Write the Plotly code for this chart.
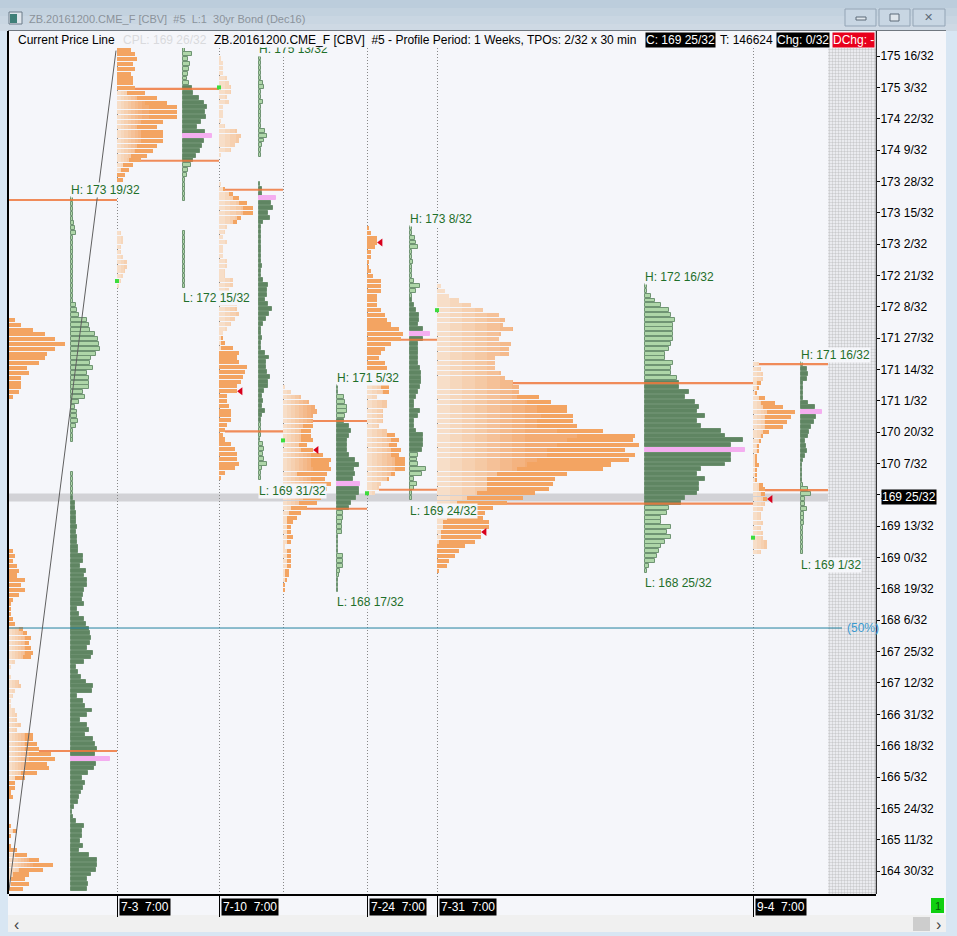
import plotly.graph_objects as go

# one list per weekly profile, rows run from the top price down in 2/32 steps
# tpo = letters per row, old = how many of them are from earlier sessions, vol = volume per row (same x scale)
wk1_tpo = [0] * 25 + [3, 6, 12, 18, 23, 28, 23, 19, 18, 15, 9, 10, 6, 6, 6, 5, 2] + [0] * 31 + [
    2, 3, 2, 4, 5, 4, 8, 6, 8, 5, 2, 1, 1, 1, 2, 3, 7, 9, 11, 10, 11, 12, 11, 3, 1, 0, 1, 5, 6, 3, 2, 1, 1, 3, 4, 4, 6, 4,
    12, 12, 14, 15, 21, 23, 19, 20, 14, 8, 3, 3, 1, 2, 0, 0, 0, 0, 0, 1, 4, 1, 0, 1, 4, 9, 15, 22, 17, 10, 8, 10, 7]
wk1_old = [0] * 73 + [0] * 16 + [5, 7, 8, 8, 8, 8, 7, 3, 1, 0, 1, 5, 6, 3, 2, 1, 1, 3, 4, 4, 6, 4,
    8, 8, 8, 8, 10, 10, 8, 8, 6, 3, 0, 0, 0, 0, 0, 0, 0, 0, 0, 0, 2, 0, 0, 0, 0, 3, 10, 12, 5, 2, 1, 1, 0]
wk1_vol = [1.2] * 5 + [1.6, 2.2, 2.7] + [1.2] * 14 + [2.7, 3.2, 4.2, 8.2, 9.2, 9.7, 12.2, 13.7, 14.2, 14.7, 12.7, 10.2, 9.7,
    11.2, 8.2, 9.2, 9.2, 9.2, 6.2, 7.2, 4.2, 2.2, 3.2, 3.2, 3.7, 2.7, 1.2, 1.2, 1.2] + [0] * 6 + [1.2] * 3 + [
    1.2, 1.2, 1.2, 2.2, 2.2, 2.7, 2.7, 2.7, 3.2, 2.7, 3.2, 3.2, 3.7, 3.7, 6.2, 6.2, 4.7, 7.7, 6.7, 8.2, 8.2, 6.7, 6.2, 5.7,
    6.7, 3.2, 4.2, 6.7, 7.7, 9.2, 9.7, 10.2, 9.7, 8.2, 11.2, 10.2, 6.7, 2.7, 3.7, 5.2, 7.7, 11.2, 10.7, 3.2, 6.2, 7.2, 10.7,
    8.2, 4.7, 8.2, 9.2, 7.2, 11.2, 12.2, 13.2, 12.2, 19.8, 12.7, 11.7, 8.7, 5.7, 7.2, 6.2, 5.2, 4.2, 3.7, 1.7, 0.7, 1.2, 2.7,
    6.7, 5.7, 5.7, 4.7, 6.2, 4.2, 9.2, 13.2, 13.2, 12.7, 10.2, 8.2, 8.7, 8.2]

wk2_tpo = [7, 9, 10, 8, 9, 7, 8, 8, 9, 14, 20, 25, 30, 30, 30, 23, 20, 23, 23, 23, 20, 18, 15, 12, 8, 6, 4, 3] + [0] * 10 + [
    2, 3, 3, 2, 2, 3, 5, 5, 4, 3, 2, 1]
wk2_old = [0] * 9 + [5, 10, 14, 16, 16, 16, 12, 10, 12, 12, 12, 10, 9, 7, 6, 3, 2, 0, 0] + [0] * 10 + [
    2, 3, 3, 2, 2, 3, 5, 5, 4, 3, 2, 1]
wk2_vol = [1, 4.5, 2.5, 3.5, 3, 2.5, 2, 3, 4.5, 5, 8, 10.5, 12, 11, 11.5, 9, 7, 11, 14.5, 10.5, 9.5, 8.5, 6.5, 5, 4, 2.5, 2, 1,
    1, 1, 1, 1] + [0] * 6 + [1] * 12

wk3_tpo = [1, 2, 2, 2, 4, 5, 6, 6, 4, 5, 2, 2, 2, 1, 3, 9, 11, 10, 8, 6, 1] + [0] * 5 + [
    1, 3, 7, 10, 14, 17, 17, 11, 9, 4, 3, 2, 4, 2, 2, 2, 4, 4, 3, 3, 7, 7, 5, 5, 5, 9, 9, 10, 8, 6, 4, 2, 2, 3, 7,
    10, 9, 10, 14, 13, 12, 11, 9, 9, 4, 4, 5, 6, 6, 6, 4, 3, 2, 3, 6, 8, 9, 9, 10, 8, 3, 1]
wk3_old = [1, 2, 2, 2, 4, 5, 6, 6, 4, 5, 2, 2, 2, 1, 3, 9, 11, 10, 8, 6, 1] + [0] * 5 + [
    1, 2, 5, 7, 10, 12, 12, 9, 7, 4, 3, 2, 4, 2, 2, 2, 4, 4, 3, 3, 7, 7, 5, 5, 5, 9, 9, 10, 8, 6, 4, 2, 1, 1, 1] + [0] * 27
wk3_vol = [1, 1, 1, 1, 1, 2, 2.5, 1, 1, 2, 1, 1, 1, 1, 1, 3, 4, 2.5, 1.5, 1, 1] + [0] * 5 + [
    0.8, 1.6, 1.6, 8.7, 6, 7, 4.5, 5.7, 2.2, 1.2, 1.2, 1.2, 1.2, 1.2, 1.2, 1.2, 1.2, 1.6, 1.2, 1.2, 2.2, 4.5, 4.2, 4.2, 3.2,
    4.5, 6.5, 5.2, 3.7, 2.2, 1.2, 1.2, 1.6, 1.2, 1.2, 3.2, 5.2, 3.7, 3.7, 4.2, 5.7, 4.7, 4.7, 2.7, 1.6, 2.2, 1.6, 3.2, 1.6,
    1.2, 1.2, 1.2, 1.2, 0.8, 2.2, 2.7, 2.2, 2.7, 4.2, 1.6, 1.2, 1.2]

wk4_tpo = [1, 4, 9, 13, 16, 17, 15, 15, 15, 14, 14, 15, 12, 15, 20, 24, 23, 24, 22, 21, 24, 22, 20, 19, 17, 12, 9, 7, 5, 4,
    4, 5, 4, 1, 4, 4, 4, 4, 3, 3, 2, 1, 1]
wk4_old = [1, 4, 9, 13, 16, 17, 15, 15, 10, 9, 9, 9, 8, 9, 14, 14, 14, 15, 7, 14, 14, 13, 13, 10, 8, 4, 3, 2, 2, 2,
    2, 2, 2, 1, 2, 2, 2, 2, 1, 1, 1, 0, 0]
wk4_vol = [0.8, 0.8, 3.8, 4.3, 5.3, 5.3, 4.3, 3.8, 6.3, 7.3, 6.3, 5, 5.3, 5.3, 6, 9.3, 11, 8.7, 9, 8.3, 11.7, 11, 11, 9.7, 7.3,
    6.3, 3.3, 3, 2.8, 2.8, 2.8, 0.8, 0.8, 0.8, 0.8, 3, 3, 3, 1.7, 1.3, 0.8, 0.8, 0.8]

wk5_tpo = [1, 2, 5, 5, 4, 2, 2, 1, 1, 2, 3, 7, 7, 7, 5, 5, 5, 7, 9, 10, 12, 16, 18, 17, 12, 9, 7, 6, 9, 10,
    10, 10, 10, 11, 11, 5, 10, 10, 8, 8, 8, 6, 10, 14, 16, 15, 17, 16, 19, 19, 19, 14, 11, 7, 6, 4]
wk5_old = [0] * 30 + [10, 10, 10, 7, 8, 5, 10, 10, 8, 8, 8, 6, 10, 10, 12, 11, 12, 12, 14, 14, 14, 12, 10, 7, 6, 4]
wk5_vol = [1, 1, 2.5, 3, 4, 1, 1, 1.5, 1, 1, 1, 2, 5, 3, 1, 1, 2, 3, 4.5, 4.5, 4, 6.5, 9.8, 6.2, 4, 4, 4, 4, 4, 5,
    5.5, 5.5, 5.5, 5, 4, 3, 2, 2, 5, 4, 2, 2, 3, 6.5, 6.5, 6.5, 6, 4, 3.5, 4, 8, 6, 2, 3.5, 2, 1, 1]

wk6_tpo = [2, 4, 6, 11, 17, 23, 31, 34, 33, 38, 32, 31, 37, 36, 36, 29, 29, 29, 32, 34, 38, 41, 41, 51, 57, 65, 65, 68, 68, 70,
    83, 99, 98, 101, 94, 99, 96, 87, 83, 65, 59, 58, 56, 49, 43, 35, 28, 24, 23, 26, 26, 22, 22, 19, 14, 11, 9, 6, 5, 1]
wk6_old = [2, 4, 6, 11, 17, 23, 31, 34, 33, 38, 32, 31, 37, 36, 36, 29, 29, 29, 32, 34, 38, 41, 41, 40, 45, 50, 50, 52, 50, 50,
    60, 70, 65, 60, 55, 55, 50, 45, 40, 30, 25, 25, 25, 20, 15, 10, 5, 0, 5, 3, 3, 2, 2, 1, 0, 0, 0, 0, 0, 0]
wk6_vol = [1, 1, 3, 5, 8, 12, 13, 15, 14, 14, 14, 14, 13, 12, 10, 10, 14, 13, 13, 16, 17, 17, 22, 20, 25, 27, 26, 30, 26, 28,
    38, 40, 49, 43, 50, 43, 43, 40, 28, 26, 30, 27, 27, 26, 20, 18, 12, 11, 8, 8, 13, 11, 13, 10, 8, 7, 6, 5, 2, 1]

wk7_tpo = [3, 4, 5, 5, 4, 3, 2, 6, 11, 15, 21, 19, 17, 15, 8, 5, 4, 3, 3, 2, 2, 3, 2, 2, 2, 5, 6, 6, 7, 6, 5, 4, 4, 5, 4, 5, 5, 7, 7, 4]
wk7_old = [3, 4, 5, 5, 2, 2, 1, 3, 4, 5, 7, 6, 6, 6, 5, 4, 3, 2, 2, 1, 1, 1, 1, 1, 1, 3, 3, 4, 5, 6, 5, 4, 4, 5, 4, 5, 5, 7, 7, 4]
wk7_vol = [1, 3, 3.5, 3, 1, 1, 1, 1, 3.5, 7, 10.5, 7.5, 6.5, 5, 4, 3.5, 2, 2.5, 3, 2, 1, 0.7, 0.7, 0.7, 0.7, 1, 3.5, 5, 2, 2, 3,
    1.5, 1.5, 1.5, 1, 1, 1, 1, 1, 1]

# per profile values, in the same order as the weeks above
top_price = [173.643, 175.584, 175.468, 171.206, 173.271, 172.519, 171.508]
session_bar = [0, 54, 105, 137, 179, 214, 372]
volume_bar = [30.75, 87, 124.85, 163.85, 200.65, 317.75, 395.85]
end_bar = 409.5
vah_price = [173.634, 175.074, 173.767, 170.770, 171.823, 171.262, 171.508]
val_price = [166.493, 174.143, 170.636, 169.633, 169.879, 169.699, 169.875]
poc_row = [116, 18, 29, 20, 22, 34, 10]
dark_rows = [(62, 143), (8, 23), (27, 75), (7, 25), (15, 46), (20, 45), (1, 24)]
fade_span = [12, 14, 22, 16, 20, 50, 15]
high_text = ["H: 173 19/32", None, "H: 175 13/32", "H: 171 5/32", "H: 173 8/32", "H: 172 16/32", "H: 171 16/32"]
low_text = [None, "L: 172 15/32", "L: 169 31/32", "L: 168 17/32", "L: 169 24/32", "L: 168 25/32", "L: 169 1/32"]
open_row = [None, 48, 6, 11, 55, 5, 36]
close_row = [None, None, 69, 13, 3, 51, 28]

tick_labels = ["175 16/32", "175 3/32", "174 22/32", "174 9/32", "173 28/32", "173 15/32", "173 2/32", "172 21/32",
               "172 8/32", "171 27/32", "171 14/32", "171 1/32", "170 20/32", "170 7/32", "169 26/32", "169 13/32",
               "169 0/32", "168 19/32", "168 6/32", "167 25/32", "167 12/32", "166 31/32", "166 18/32", "166 5/32",
               "165 24/32", "165 11/32", "164 30/32"]
date_labels = ["7-3  7:00", "7-10  7:00", "7-24  7:00", "7-31  7:00", "9-4  7:00"]
date_bars = [54, 105, 179, 214, 372]
current_price = 169.78
current_label = "169 25/32"
half_price = 168.087
trend_x = [0, 53.5]
trend_y = [164.69, 175.57]

ROW = 2 / 32
PANEL = "#f5f6fa"
PALE = (247, 222, 200)
MID = (243, 172, 116)
FRESH = "#f3a462"
FADE_STEPS = 8


def to_price(label):
    whole, frac = label.split(" ")
    num, den = frac.split("/")
    return int(whole) + int(num) / int(den)


def xp(px):
    return (px - 9) / 867


def yp(py):
    return (894 - py) / 846


def fade_color(i):
    t = i / (FADE_STEPS - 1)
    c = [round(a + (b - a) * t) for a, b in zip(PALE, MID)]
    return f"rgb({c[0]},{c[1]},{c[2]})"


def add_bars(fig, rows, widths, bases, color, **marker):
    keep = [i for i, w in enumerate(widths) if w > 0]
    fig.add_trace(go.Bar(
        y=[rows[i] for i in keep],
        x=[widths[i] for i in keep],
        base=[bases[i] for i in keep],
        width=ROW * 0.84,
        orientation="h",
        marker=dict(color=color, line=dict(width=0), **marker),
        hoverinfo="skip",
    ))


def add_tpo(fig, n, tpo, old):
    rows = [top_price[n] - ROW * i for i in range(len(tpo))]
    start = session_bar[n]
    span = fade_span[n] / FADE_STEPS
    for step in range(FADE_STEPS):
        lo = step * span
        hi = lo + span if step < FADE_STEPS - 1 else 1000
        widths = [max(0, min(o, hi) - lo) for o in old]
        add_bars(fig, rows, widths, [start + lo] * len(rows), fade_color(step))
    widths = [t - o for t, o in zip(tpo, old)]
    add_bars(fig, rows, widths, [start + o for o in old], FRESH)


def add_volume(fig, n, vol):
    rows = [top_price[n] - ROW * i for i in range(len(vol))]
    first, last = dark_rows[n]
    keep = [i for i, v in enumerate(vol) if v > 0]
    fills = []
    edges = []
    for i in keep:
        if i == poc_row[n]:
            fills.append("#f4aef0")
            edges.append("#f4aef0")
        elif first <= i <= last:
            fills.append("#5f8562")
            edges.append("#6b8f6e")
        else:
            fills.append("#aed6a8")
            edges.append("#6f9473")
    fig.add_trace(go.Bar(
        y=[rows[i] for i in keep],
        x=[vol[i] for i in keep],
        base=volume_bar[n],
        width=ROW * 0.82,
        orientation="h",
        marker=dict(color=fills, line=dict(color=edges, width=1)),
        hoverinfo="skip",
    ))


def tpo_end(n, tpo, price):
    i = round((top_price[n] - price) / ROW)
    i = max(0, min(i, len(tpo) - 1))
    return session_bar[n] + tpo[i]


tpos = [wk1_tpo, wk2_tpo, wk3_tpo, wk4_tpo, wk5_tpo, wk6_tpo, wk7_tpo]
olds = [wk1_old, wk2_old, wk3_old, wk4_old, wk5_old, wk6_old, wk7_old]
vols = [wk1_vol, wk2_vol, wk3_vol, wk4_vol, wk5_vol, wk6_vol, wk7_vol]

fig = go.Figure()

# hatched area right of the last bar
fig.add_trace(go.Bar(
    y=[170.122], x=[24], base=[end_bar], width=[10.964], orientation="h",
    marker=dict(color=PANEL, line=dict(width=0),
                pattern=dict(shape=".", fgcolor="#a0a0a0", bgcolor=PANEL, size=3, solidity=0.5)),
    hoverinfo="skip",
))

for n in range(7):
    add_tpo(fig, n, tpos[n], olds[n])
    add_volume(fig, n, vols[n])

# value area lines run from the end of the tpo bar to the next session
next_bar = session_bar[1:] + [end_bar]
for n in range(7):
    for price in (vah_price[n], val_price[n]):
        fig.add_trace(go.Scatter(
            x=[tpo_end(n, tpos[n], price), next_bar[n]], y=[price, price], mode="lines",
            line=dict(color="rgba(238,120,60,0.85)", width=2.2), hoverinfo="skip",
        ))

fig.add_trace(go.Scatter(x=[0, 416.5], y=[half_price, half_price], mode="lines",
                         line=dict(color="#23819f", width=1), hoverinfo="skip"))
fig.add_trace(go.Scatter(x=trend_x, y=trend_y, mode="lines",
                         line=dict(color="#606060", width=1), hoverinfo="skip"))

# session open / close marks
open_x, open_y, close_x, close_y = [], [], [], []
for n in range(7):
    if open_row[n] is not None:
        open_x.append(session_bar[n])
        open_y.append(top_price[n] - ROW * open_row[n])
    if close_row[n] is not None:
        close_x.append(session_bar[n] + tpos[n][close_row[n]] + 1.8)
        close_y.append(top_price[n] - ROW * close_row[n])
fig.add_trace(go.Scatter(x=open_x, y=open_y, mode="markers", hoverinfo="skip",
                         marker=dict(symbol="square", size=4, color="#3ddc3d")))
fig.add_trace(go.Scatter(x=close_x, y=close_y, mode="markers", hoverinfo="skip",
                         marker=dict(symbol="triangle-left", size=7, color="#d8001c")))

shapes = []


def rect(x0, y0, x1, y1, fill, line=None, width=1):
    shapes.append(dict(type="rect", xref="paper", yref="paper", x0=xp(x0), x1=xp(x1), y0=yp(y0), y1=yp(y1),
                       fillcolor=fill, line=dict(color=line or fill, width=width if line else 0), layer="below"))


# window chrome
rect(0, 0, 957, 8, "#bccddc")
rect(0, 8, 957, 16, "#c3d2df")
rect(0, 16, 957, 24, "#c9d6e2")
rect(0, 24, 957, 31, "#ced9e4")
rect(8, 31, 946, 915, PANEL)
rect(8, 915, 946, 932, "#f0f0f0")
rect(913, 917, 930, 931, "#cdcdcd")
rect(845, 9, 876, 26, "#c8d6e3", "#93a4b5")
rect(879, 9, 910, 26, "#c8d6e3", "#93a4b5")
rect(913, 9, 945, 26, "#c8d6e3", "#93a4b5")
rect(856, 17, 866, 20, "#dfe6ec", "#5d6b78")
rect(890, 14, 899, 21, "#dfe6ec", "#5d6b78")
rect(9, 12, 22, 24, "#dfe6ec", "#6b7b88")
rect(10, 14, 17, 23, "#3f7f78")
rect(931, 898, 944, 913, "#10d010")
shapes.append(dict(type="rect", xref="x", yref="y", x0=0, x1=end_bar, y0=current_price - 0.052, y1=current_price + 0.052,
                   fillcolor="#d2d2d6", line=dict(width=0), layer="below"))
shapes.append(dict(type="line", xref="paper", yref="paper", x0=xp(8), x1=xp(946), y0=yp(30.5), y1=yp(30.5),
                   line=dict(color="#707880", width=1)))
shapes.append(dict(type="line", xref="paper", yref="paper", x0=xp(8), x1=xp(8), y0=yp(31), y1=yp(894),
                   line=dict(color="#000000", width=2)))
shapes.append(dict(type="line", xref="paper", yref="paper", x0=xp(876.3), x1=xp(876.3), y0=yp(31), y1=yp(894),
                   line=dict(color="#000000", width=1)))

notes = []


def text(px, py, s, color="#000000", bg=None, size=12, anchor="left"):
    notes.append(dict(xref="paper", yref="paper", x=xp(px), y=yp(py), text=s, showarrow=False, xanchor=anchor,
                      yanchor="middle", font=dict(color=color, size=size), bgcolor=bg, borderpad=0))


# high / low labels sit just outside the first and last row
for n in range(7):
    if high_text[n]:
        notes.append(dict(x=volume_bar[n] - 0.5, y=top_price[n] + 0.117, text=high_text[n], showarrow=False, xanchor="left",
                          yanchor="middle", font=dict(color="#1f6f2a", size=12), bgcolor=PANEL, borderpad=0))
    if low_text[n]:
        price = top_price[n] - ROW * (len(vols[n]) - 1) - 0.162
        notes.append(dict(x=volume_bar[n] - 0.5, y=price, text=low_text[n], showarrow=False, xanchor="left",
                          yanchor="middle", font=dict(color="#1f6f2a", size=12), bgcolor=PANEL, borderpad=0))

for label, bar in zip(date_labels, date_bars):
    notes.append(dict(x=bar + 1, xref="x", y=yp(906.5), yref="paper", text=label, showarrow=False, xanchor="left",
                      yanchor="middle", font=dict(color="#ffffff", size=12), bgcolor="#000000", borderpad=1))

text(28, 19, "ZB.20161200.CME_F [CBV]  #5  L:1  30yr Bond (Dec16)", color="#8b939b", size=11)
text(929, 17.5, "✕", color="#5d6b78", size=11, anchor="center")
text(16.5, 40.5, "Current Price Line")
text(122, 40.5, "CPL: 169 26/32", color="#d9dadd")
text(213, 40.5, "ZB.20161200.CME_F [CBV]  #5 - Profile Period: 1 Weeks, TPOs: 2/32 x 30 min", bg=PANEL)
text(645, 40, "C: 169 25/32", color="#ffffff", bg="#000000")
text(719, 40.5, "T: 146624")
text(776, 40, "Chg: 0/32", color="#ffffff", bg="#000000")
text(832, 40, "DChg: -", color="#ffffff", bg="#e8001c")
text(846, 628, "(50%)", color="#3a9ad0")
text(881, 497, current_label, color="#ffffff", bg="#000000")
text(937.5, 905.5, "1", color="#0a5a0a", size=11, anchor="center")
text(16, 924, "‹", color="#444444", size=16, anchor="center")
text(938, 924, "›", color="#444444", size=16, anchor="center")

fig.update_layout(
    width=957,
    height=936,
    autosize=False,
    margin=dict(l=9, r=81, t=48, b=42),
    barmode="overlay",
    showlegend=False,
    bargap=0,
    font=dict(family="Liberation Sans, Arial, sans-serif", size=12, color="#000000"),
    paper_bgcolor="#d8e6f3",
    plot_bgcolor=PANEL,
    shapes=shapes,
    annotations=notes,
    xaxis=dict(
        range=[0, 433.5], showticklabels=False, zeroline=False, showline=True, linecolor="#000000", linewidth=1.5,
        tickmode="array", tickvals=date_bars, ticks="outside", ticklen=21, tickcolor="#000000", tickwidth=1,
        showgrid=True, griddash="1px,2px", gridcolor="#888888", gridwidth=1,
        minor=dict(tickmode="array", tickvals=[137], ticks="", showgrid=True, griddash="1px,2px", gridcolor="#888888", gridwidth=1),
    ),
    yaxis=dict(
        range=[164.640, 175.604], side="right", showgrid=False, zeroline=False, showline=False,
        tickmode="array", tickvals=[to_price(t) for t in tick_labels], ticktext=tick_labels,
        ticks="outside", ticklen=3, tickcolor="#000000", tickfont=dict(size=12), ticklabelstandoff=-2,
    ),
)

fig.write_html("out.html", config=dict(displayModeBar=False),
               post_script="document.body.style.margin='0';document.body.style.overflow='hidden';")
